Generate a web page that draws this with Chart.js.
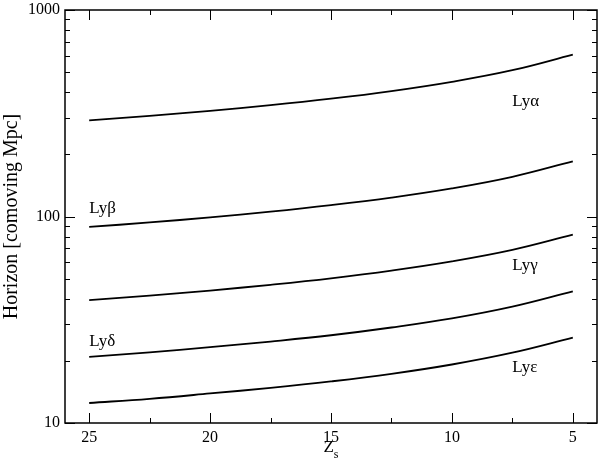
<!DOCTYPE html>
<html>
<head>
<meta charset="utf-8">
<title>Horizon vs z_s</title>
<script src="https://cdn.jsdelivr.net/npm/chart.js"></script>
<style>
  html, body { margin: 0; padding: 0; background: #fff; }
  #wrap { width: 600px; height: 465px; }
</style>
</head>
<body>
<div id="wrap"><canvas id="chart" width="600" height="465"></canvas></div>
<script>
// source redshift values
const zs = [25, 22.5, 20, 17.5, 15, 12.5, 10, 7.5, 5];

// comoving horizon [Mpc] per Lyman line
const lyAlpha = [292, 307, 325, 346, 372, 405, 449, 511, 608];
const lyBeta = [89, 93.6, 99.0, 105.5, 113.5, 123.5, 136.8, 155.7, 185];
const lyGamma = [39.4, 41.4, 43.8, 46.7, 50.2, 54.7, 60.6, 68.9, 81.6];
const lyDelta = [20.9, 22.0, 23.3, 24.8, 26.6, 29.0, 32.1, 36.6, 43.4];
const lyEps = [12.5, 13.1, 13.9, 14.8, 15.9, 17.3, 19.2, 21.9, 25.9];

// axis ticks
const xTicks = [25, 20, 15, 10, 5];
const xMinor = [22.5, 17.5, 12.5, 7.5];
const yTicks = [10, 100, 1000];
const yMinor = [20, 30, 40, 50, 60, 70, 80, 90, 200, 300, 400, 500, 600, 700, 800, 900];

// curve labels (data coordinates)
const lineLabels = [
    { text: 'Lyα', x: 7.5, y: 362 },
    { text: 'Lyβ', x: 25, y: 108.7 },
    { text: 'Lyγ', x: 7.5, y: 58.2 },
    { text: 'Lyδ', x: 25, y: 24.9 },
    { text: 'Lyε', x: 7.5, y: 18.5 }
];

const serif = '"Liberation Serif", "Times New Roman", serif';

function toPoints(vals) {
    return zs.map((z, i) => ({ x: z, y: vals[i] }));
}

function lineSet(vals) {
    return {
        data: toPoints(vals),
        borderColor: '#000',
        borderWidth: 1.8,
        pointRadius: 0,
        fill: false,
        tension: 0.4
    };
}

// frame, inward ticks on all sides, curve labels and the x title
const decorations = {
    id: 'decorations',
    afterDraw(chart) {
        const ctx = chart.ctx;
        const a = chart.chartArea;
        const xs = chart.scales.x;
        const ys = chart.scales.y;
        ctx.save();
        ctx.strokeStyle = '#000';
        ctx.lineWidth = 1.5;
        ctx.strokeRect(a.left, a.top, a.right - a.left, a.bottom - a.top);

        ctx.lineWidth = 1;
        const tickX = (v, len) => {
            const px = Math.round(xs.getPixelForValue(v)) + 0.5;
            ctx.beginPath();
            ctx.moveTo(px, a.bottom); ctx.lineTo(px, a.bottom - len);
            ctx.moveTo(px, a.top); ctx.lineTo(px, a.top + len);
            ctx.stroke();
        };
        const tickY = (v, len) => {
            const py = Math.round(ys.getPixelForValue(v)) + 0.5;
            ctx.beginPath();
            ctx.moveTo(a.left, py); ctx.lineTo(a.left + len, py);
            ctx.moveTo(a.right, py); ctx.lineTo(a.right - len, py);
            ctx.stroke();
        };
        xTicks.forEach(v => tickX(v, 10));
        xMinor.forEach(v => tickX(v, 5));
        yTicks.forEach(v => tickY(v, 10));
        yMinor.forEach(v => tickY(v, 5));

        ctx.fillStyle = '#000';
        ctx.font = '17px ' + serif;
        ctx.textAlign = 'left';
        ctx.textBaseline = 'middle';
        lineLabels.forEach(l => {
            ctx.fillText(l.text, xs.getPixelForValue(l.x), ys.getPixelForValue(l.y));
        });

        // x title: Z with subscript s
        const cx = (a.left + a.right) / 2;
        ctx.textBaseline = 'alphabetic';
        ctx.font = '17px ' + serif;
        const zw = ctx.measureText('Z').width;
        ctx.font = '12px ' + serif;
        const sw = ctx.measureText('s').width;
        const x0 = cx - (zw + sw) / 2;
        ctx.font = '17px ' + serif;
        ctx.fillText('Z', x0, 452);
        ctx.font = '12px ' + serif;
        ctx.fillText('s', x0 + zw, 458);
        ctx.restore();
    }
};

new Chart(document.getElementById('chart'), {
    type: 'line',
    data: {
        datasets: [lineSet(lyAlpha), lineSet(lyBeta), lineSet(lyGamma), lineSet(lyDelta), lineSet(lyEps)]
    },
    options: {
        responsive: false,
        animation: false,
        layout: { padding: { left: 0, right: 3, top: 10, bottom: 0 } },
        plugins: {
            legend: { display: false },
            tooltip: { enabled: false }
        },
        scales: {
            x: {
                type: 'linear',
                min: 4,
                max: 26,
                reverse: true,
                grid: { display: false, drawTicks: false },
                border: { display: false },
                afterBuildTicks: s => { s.ticks = xTicks.map(v => ({ value: v })); },
                afterFit: s => { s.height = 42; s.paddingLeft = 0; s.paddingRight = 0; },
                ticks: {
                    color: '#000',
                    padding: 5,
                    maxRotation: 0,
                    font: { family: serif, size: 16 },
                    callback: v => String(v)
                }
            },
            y: {
                type: 'logarithmic',
                min: 10,
                max: 1000,
                grid: { display: false, drawTicks: false },
                border: { display: false },
                afterBuildTicks: s => { s.ticks = yTicks.map(v => ({ value: v })); },
                afterFit: s => { s.width = 65; s.paddingTop = 0; s.paddingBottom = 0; },
                ticks: {
                    color: '#000',
                    padding: 5,
                    font: { family: serif, size: 16 },
                    callback: v => String(v)
                },
                title: {
                    display: true,
                    text: 'Horizon [comoving Mpc]',
                    color: '#000',
                    padding: { top: 0, bottom: 0 },
                    font: { family: serif, size: 20 }
                }
            }
        }
    },
    plugins: [decorations]
});
</script>
</body>
</html>
